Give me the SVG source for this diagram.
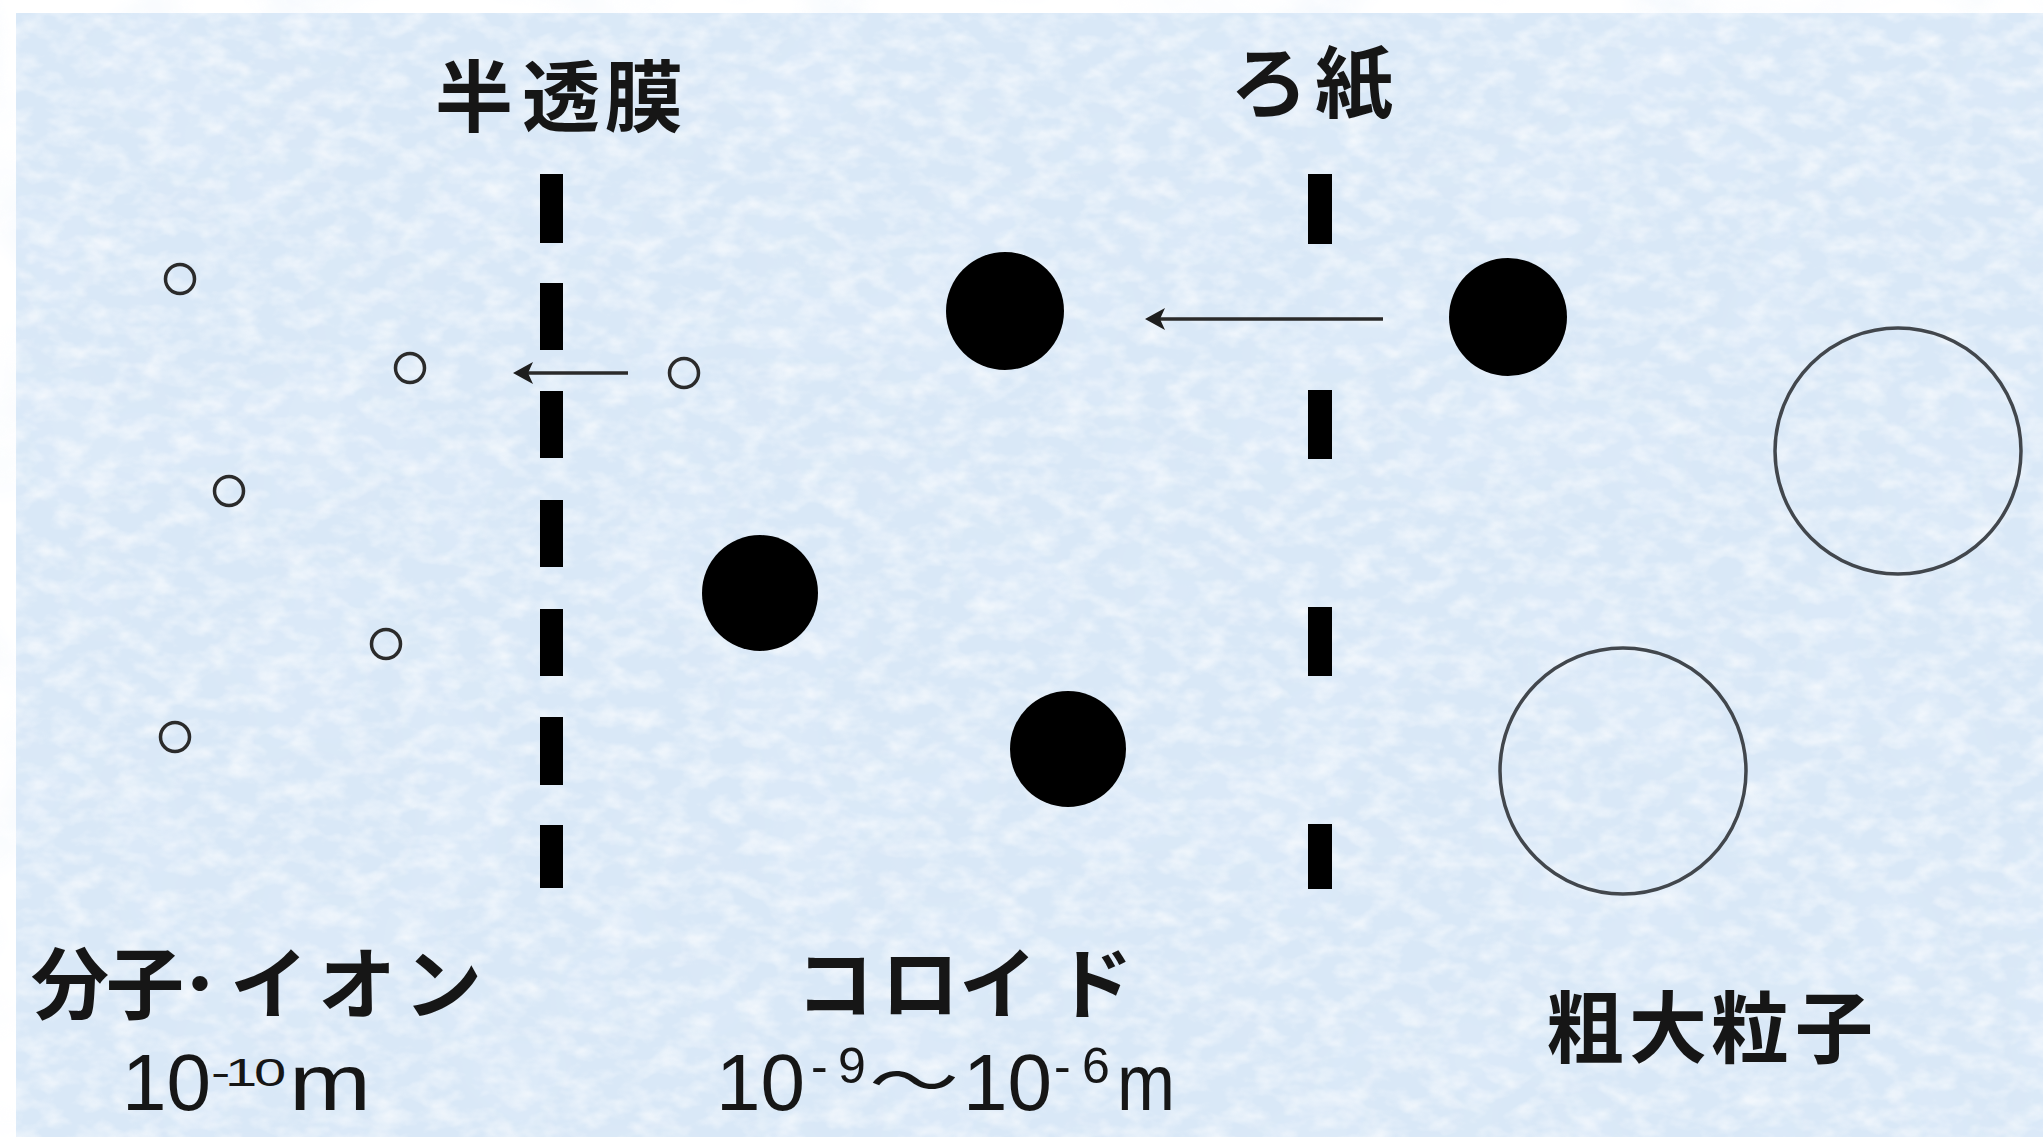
<svg xmlns="http://www.w3.org/2000/svg" width="2043" height="1137" viewBox="0 0 2043 1137">
  <style>
    .jp { font-family: "Noto Sans CJK JP", "Noto Sans CJK SC", sans-serif; font-weight: 700; fill: #161616; }
    .wave { font-family: "Noto Sans CJK JP", "Noto Sans CJK SC", sans-serif; font-weight: 400; fill: #161616; }
    .num { font-family: "Liberation Sans", Arial, sans-serif; fill: #161616; }
    .dash { fill: #000; }
    .ion { fill: none; stroke: #2b2b2b; stroke-width: 3.5; }
    .colloid { fill: #000; }
    .coarse { fill: none; stroke: #42474d; stroke-width: 3.5; }
    .arrow { stroke: #2a2a2a; stroke-width: 3.5; fill: none; }
  </style>
  <defs>
    <filter id="tex" x="0" y="0" width="100%" height="100%" filterUnits="userSpaceOnUse">
      <feTurbulence type="fractalNoise" baseFrequency="0.035 0.055" numOctaves="3" seed="7" result="n"/>
      <feColorMatrix in="n" type="matrix" values="0 0 0 0 1  0 0 0 0 1  0 0 0 0 1  1.7 0 0 0 -0.68"/>
    </filter>
    <filter id="tex2" x="0" y="0" width="100%" height="100%" filterUnits="userSpaceOnUse">
      <feTurbulence type="fractalNoise" baseFrequency="0.008" numOctaves="2" seed="2" result="n"/>
      <feColorMatrix in="n" type="matrix" values="0 0 0 0 0.76  0 0 0 0 0.85  0 0 0 0 0.96  0 1.1 0 0 -0.5"/>
    </filter>
    <marker id="ah" markerUnits="userSpaceOnUse" markerWidth="24" markerHeight="24" refX="12" refY="11" orient="auto">
      <path d="M20,11 L0,0 L5,11 L0,22 Z" fill="#1e1e1e"/>
    </marker>
  </defs>

  <!-- background -->
  <rect x="0" y="0" width="2043" height="1137" fill="#ffffff"/>
  <rect x="16" y="13" width="2027" height="1124" fill="#d9e8f7"/>
  <rect x="16" y="13" width="2027" height="1124" fill="#fff" filter="url(#tex2)"/>
  <rect x="16" y="13" width="2027" height="1124" fill="#fff" filter="url(#tex)" opacity="0.75"/>

  <!-- semi-permeable membrane -->
  <g id="membrane">
    <text class="jp" font-size="78" x="474 561 644" y="126" text-anchor="middle">半透膜</text>
    <rect class="dash" x="540" y="174" width="23" height="69"/>
    <rect class="dash" x="540" y="283" width="23" height="67"/>
    <rect class="dash" x="540" y="391" width="23" height="67"/>
    <rect class="dash" x="540" y="500" width="23" height="67"/>
    <rect class="dash" x="540" y="609" width="23" height="67"/>
    <rect class="dash" x="540" y="717" width="23" height="68"/>
    <rect class="dash" x="540" y="825" width="23" height="63"/>
  </g>

  <!-- filter paper -->
  <g id="filter-paper">
    <text class="jp" font-size="78" x="1269 1354" y="112" text-anchor="middle">ろ紙</text>
    <rect class="dash" x="1308" y="174" width="24" height="70"/>
    <rect class="dash" x="1308" y="390" width="24" height="69"/>
    <rect class="dash" x="1308" y="607" width="24" height="69"/>
    <rect class="dash" x="1308" y="824" width="24" height="65"/>
  </g>

  <!-- molecules / ions -->
  <g id="ions">
    <circle class="ion" cx="180" cy="279" r="14.5"/>
    <circle class="ion" cx="410" cy="368" r="14.5"/>
    <circle class="ion" cx="684" cy="373" r="14.5"/>
    <circle class="ion" cx="229" cy="491" r="14.5"/>
    <circle class="ion" cx="386" cy="644" r="14.5"/>
    <circle class="ion" cx="175" cy="737" r="14.5"/>
  </g>

  <!-- colloid particles -->
  <g id="colloids">
    <circle class="colloid" cx="1005" cy="311" r="59"/>
    <circle class="colloid" cx="760" cy="593" r="58"/>
    <circle class="colloid" cx="1068" cy="749" r="58"/>
    <circle class="colloid" cx="1508" cy="317" r="59"/>
  </g>

  <!-- coarse particles -->
  <g id="coarse-particles">
    <circle class="coarse" cx="1898" cy="451" r="123"/>
    <circle class="coarse" cx="1623" cy="771" r="123"/>
  </g>

  <!-- connectors -->
  <g id="connectors">
    <line class="arrow" x1="628" y1="373" x2="521" y2="373" marker-end="url(#ah)"/>
    <line class="arrow" x1="1383" y1="319" x2="1153" y2="319" marker-end="url(#ah)"/>
  </g>

  <!-- labels -->
  <g id="label-ions">
    <text class="jp" font-size="78" x="70 145 200 269 357 443" y="1013" text-anchor="middle">分子･イオン</text>
    <text class="num" font-size="80" x="122" y="1110">10</text>
    <text class="num" font-size="58" x="211 225 254" y="0" transform="translate(0,1086) scale(1,0.67)">-10</text>
    <text class="num" font-size="80" x="289" y="1110" textLength="82" lengthAdjust="spacingAndGlyphs">m</text>
  </g>

  <g id="label-colloid">
    <text class="jp" font-size="78" x="835 920 998 1094" y="1013" text-anchor="middle">コロイド</text>
    <text class="num" font-size="80" x="716" y="1110">10</text>
    <text class="num" font-size="50" x="811 838" y="1083">-9</text>
    <text class="wave" font-size="64" x="914" y="1104" text-anchor="middle" textLength="90" lengthAdjust="spacingAndGlyphs">～</text>
    <text class="num" font-size="80" x="963" y="1110">10</text>
    <text class="num" font-size="50" x="1054 1082" y="1083">-6</text>
    <text class="num" font-size="80" x="1117" y="1110" textLength="58" lengthAdjust="spacingAndGlyphs">m</text>
  </g>

  <g id="label-coarse">
    <text class="jp" font-size="78" x="1585 1668 1750 1834" y="1057" text-anchor="middle">粗大粒子</text>
  </g>
</svg>
